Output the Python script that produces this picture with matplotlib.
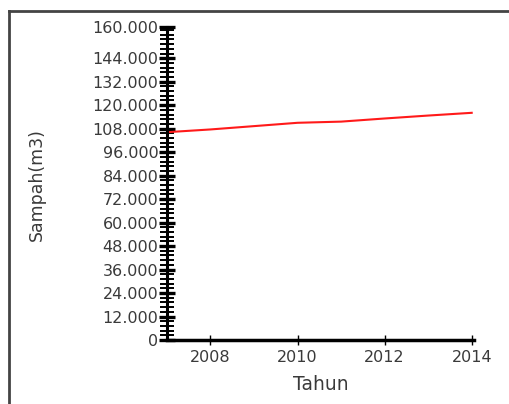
import matplotlib.pyplot as plt
from matplotlib.ticker import MultipleLocator, FixedLocator, FuncFormatter
from matplotlib.lines import Line2D

# ============================================
# Data
# ============================================

tahun = [2007, 2008, 2009, 2010, 2011, 2012, 2013, 2014]
sampah = [106200, 107600, 109300, 111000, 111600, 113200, 114700, 116100]

y_ticks = [0, 12000, 24000, 36000, 48000, 60000, 72000, 84000,
           96000, 108000, 120000, 132000, 144000, 160000]
x_ticks = [2008, 2010, 2012, 2014]

text_color = "#3a3a3a"
plt.rcParams["font.family"] = ["DejaVu Sans"]

# ============================================
# Figure
# ============================================

fig = plt.figure(figsize=(5.09, 4.04), dpi=100)
ax = fig.add_axes([0.328, 0.1584, 0.603, 0.775])

ax.plot(tahun, sampah, color="#ff1a1a", linewidth=1.5)

ax.set_xlim(2007, 2014.05)
ax.set_ylim(0, 160000)

ax.yaxis.set_major_locator(FixedLocator(y_ticks))
ax.yaxis.set_minor_locator(MultipleLocator(2400))
ax.yaxis.set_major_formatter(
    FuncFormatter(lambda v, p: "0" if v == 0 else f"{v/1000:.3f}")
)
ax.xaxis.set_major_locator(FixedLocator(x_ticks))

for side in ["top", "right"]:
    ax.spines[side].set_visible(False)
ax.spines["left"].set_linewidth(2.2)
ax.spines["bottom"].set_linewidth(2.5)

ax.tick_params(axis="y", which="major", direction="inout", length=12,
               width=2.4, labelsize=11.5, labelcolor=text_color, pad=0)
ax.tick_params(axis="y", which="minor", direction="inout", length=10,
               width=1.4)
ax.tick_params(axis="x", which="major", direction="inout", length=7,
               width=1, labelsize=11.5, labelcolor=text_color, pad=4)

ax.set_xlabel("Tahun", fontsize=13.5, color=text_color, labelpad=7)
fig.text(37 / 509, 1 - 185 / 404, "Sampah(m3)", rotation=90,
         fontsize=12.5, color=text_color, ha="center", va="center")

# outer frame (left and top edges only visible)
fig.add_artist(Line2D([9 / 509, 9 / 509], [0, 1 - 11 / 404],
                      transform=fig.transFigure, color="#444444", lw=2))
fig.add_artist(Line2D([9 / 509, 1], [1 - 11 / 404, 1 - 11 / 404],
                      transform=fig.transFigure, color="#444444", lw=2))

plt.savefig("out.png", dpi=100)
